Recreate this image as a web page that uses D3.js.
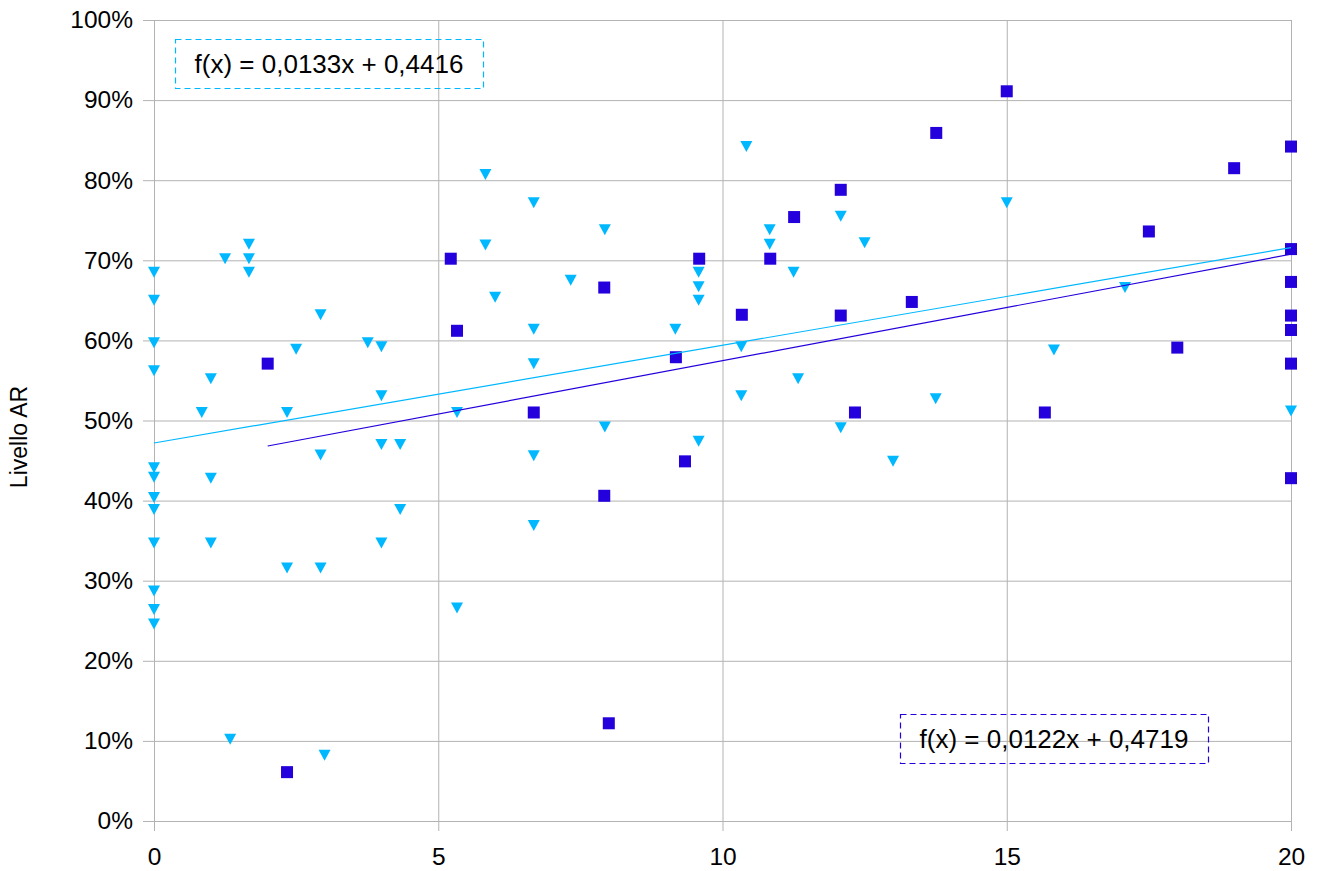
<!DOCTYPE html>
<html>
<head>
<meta charset="utf-8">
<script src="https://cdn.jsdelivr.net/npm/d3@7"></script>
<style>
  body { margin: 0; background: #fff; }
  text { font-family: "Liberation Sans", Arial, sans-serif; fill: #000; }
</style>
</head>
<body>
<div id="chartArea"></div>
<script>
// serie 1 (triangoli azzurri)
var cyanX = [0, 0, 0, 0, 0, 0, 0, 0, 0, 0, 0, 0,
    0.84, 1, 1, 1, 1.25, 1.34, 1.67, 1.67, 1.67, 2.34, 2.34, 2.5,
    2.93, 2.93, 2.93, 3, 3.76, 4, 4, 4, 4, 4.33, 4.33, 5.33, 5.33,
    5.83, 5.83, 6, 6.68, 6.68, 6.68, 6.68, 6.68, 7.33, 7.93, 7.93,
    9.17, 9.58, 9.58, 9.58, 9.58, 10.33, 10.33, 10.42, 10.83, 10.83,
    11.25, 11.33, 12.08, 12.08, 12.5, 13, 13.75, 15, 15.83, 17.08, 20];
var cyanY = [0.685, 0.650, 0.597, 0.562, 0.441, 0.429, 0.404, 0.389, 0.347, 0.287, 0.264, 0.246,
    0.510, 0.552, 0.428, 0.347, 0.702, 0.102, 0.720, 0.702, 0.685, 0.510, 0.316, 0.589,
    0.632, 0.457, 0.316, 0.082, 0.597, 0.592, 0.531, 0.470, 0.347, 0.470, 0.389, 0.510, 0.266,
    0.807, 0.719, 0.654, 0.772, 0.614, 0.571, 0.456, 0.369, 0.675, 0.738, 0.492,
    0.614, 0.685, 0.667, 0.650, 0.474, 0.592, 0.531, 0.842, 0.738, 0.720,
    0.685, 0.552, 0.755, 0.491, 0.722, 0.449, 0.527, 0.772, 0.588, 0.666, 0.512];

// serie 2 (quadrati blu)
var blueX = [2, 2.34, 5.22, 5.33, 6.68, 7.92, 7.92, 8, 9.18, 9.34, 9.59,
    10.34, 10.84, 11.26, 12.08, 12.08, 12.33, 13.33, 13.76, 15, 15.67,
    17.5, 18, 19, 20, 20, 20, 20, 20, 20, 20];
var blueY = [0.571, 0.061, 0.702, 0.612, 0.510, 0.666, 0.406, 0.122, 0.579, 0.449, 0.702,
    0.632, 0.702, 0.754, 0.788, 0.631, 0.510, 0.648, 0.859, 0.911, 0.510,
    0.736, 0.591, 0.815, 0.842, 0.714, 0.673, 0.631, 0.613, 0.571, 0.428];

// linee di tendenza
var cyanFit = { slope: 0.0122, intercept: 0.4719 };
var blueFit = { slope: 0.0133, intercept: 0.4416 };
var cyanLabel = 'f(x) = 0,0133x + 0,4416';
var blueLabel = 'f(x) = 0,0122x + 0,4719';

var xTicks = [0, 5, 10, 15, 20];
var yTicks = [0, 0.1, 0.2, 0.3, 0.4, 0.5, 0.6, 0.7, 0.8, 0.9, 1];
var yTitle = 'Livello AR';

var cyanColor = '#00b8ff';
var blueColor = '#2300dc';
var gridColor = '#b3b3b3';

var margin = { top: 20, right: 26, bottom: 50, left: 154 };
var width = 1291 - margin.left;
var height = 821 - margin.top;

var svg = d3.select('#chartArea').append('svg')
    .attr('width', 1317)
    .attr('height', 871)
    .append('g')
    .attr('transform', 'translate(' + margin.left + ',' + margin.top + ')');

var x = d3.scaleLinear().domain([0, 20]).range([0, width]);
var y = d3.scaleLinear().domain([0, 1]).range([height, 0]);

// griglia
svg.append('g')
    .attr('class', 'grid')
    .call(d3.axisLeft(y).tickValues(yTicks).tickSize(-width).tickFormat(''))
    .call(function(g) { g.select('.domain').remove(); });
svg.append('g')
    .attr('class', 'grid')
    .attr('transform', 'translate(0,' + height + ')')
    .call(d3.axisBottom(x).tickValues(xTicks).tickSize(height).tickFormat(''))
    .call(function(g) {
        g.select('.domain').remove();
        g.selectAll('line').attr('y2', -height);
    });
svg.selectAll('.grid line').attr('stroke', gridColor).attr('stroke-width', 1);

// assi
var yAxis = svg.append('g')
    .call(d3.axisLeft(y).tickValues(yTicks).tickSize(11).tickPadding(10)
        .tickFormat(d3.format('.0%')));
var xAxis = svg.append('g')
    .attr('transform', 'translate(0,' + height + ')')
    .call(d3.axisBottom(x).tickValues(xTicks).tickSize(10).tickPadding(17)
        .tickFormat(d3.format('d')));
[yAxis, xAxis].forEach(function(a) {
    a.select('.domain').attr('stroke', gridColor);
    a.selectAll('.tick line').attr('stroke', gridColor);
    a.selectAll('text')
        .attr('font-family', '"Liberation Sans", Arial, sans-serif')
        .attr('font-size', 24.5)
        .attr('fill', '#000');
});

svg.append('text')
    .attr('transform', 'translate(' + (27 - margin.left) + ',' + (437 - margin.top) + ') rotate(-90)')
    .attr('text-anchor', 'middle')
    .attr('font-size', 23)
    .text(yTitle);

// punti
svg.append('g')
    .selectAll('path')
    .data(d3.range(cyanX.length))
    .enter().append('path')
    .attr('d', 'M-6,-5.5L6,-5.5L0,5.5Z')
    .attr('transform', function(i) { return 'translate(' + x(cyanX[i]) + ',' + y(cyanY[i]) + ')'; })
    .attr('fill', cyanColor);

svg.append('g')
    .selectAll('rect')
    .data(d3.range(blueX.length))
    .enter().append('rect')
    .attr('x', function(i) { return x(blueX[i]) - 6; })
    .attr('y', function(i) { return y(blueY[i]) - 6; })
    .attr('width', 12)
    .attr('height', 12)
    .attr('fill', blueColor);

// linee di tendenza
function drawTrend(xs, fit, color) {
    var ext = d3.extent(xs);
    var pts = ext.map(function(v) { return [x(v), y(fit.slope * v + fit.intercept)]; });
    svg.append('path')
        .attr('d', d3.line()(pts))
        .attr('stroke', color)
        .attr('stroke-width', 1.2)
        .attr('fill', 'none');
}
drawTrend(cyanX, cyanFit, cyanColor);
drawTrend(blueX, blueFit, blueColor);

// etichette equazioni
function drawLabel(label, x0, y0, w, h, color) {
    svg.append('rect')
        .attr('x', x0 - margin.left + 0.5)
        .attr('y', y0 - margin.top + 0.5)
        .attr('width', w)
        .attr('height', h)
        .attr('fill', 'none')
        .attr('stroke', color)
        .attr('stroke-width', 1.2)
        .attr('stroke-dasharray', '6,4');
    svg.append('text')
        .attr('x', x0 - margin.left + w / 2)
        .attr('y', y0 - margin.top + h / 2 + 9)
        .attr('text-anchor', 'middle')
        .attr('font-size', 26)
        .text(label);
}
drawLabel(cyanLabel, 175, 39, 308, 49, cyanColor);
drawLabel(blueLabel, 900, 714, 308, 49, blueColor);
</script>
</body>
</html>
